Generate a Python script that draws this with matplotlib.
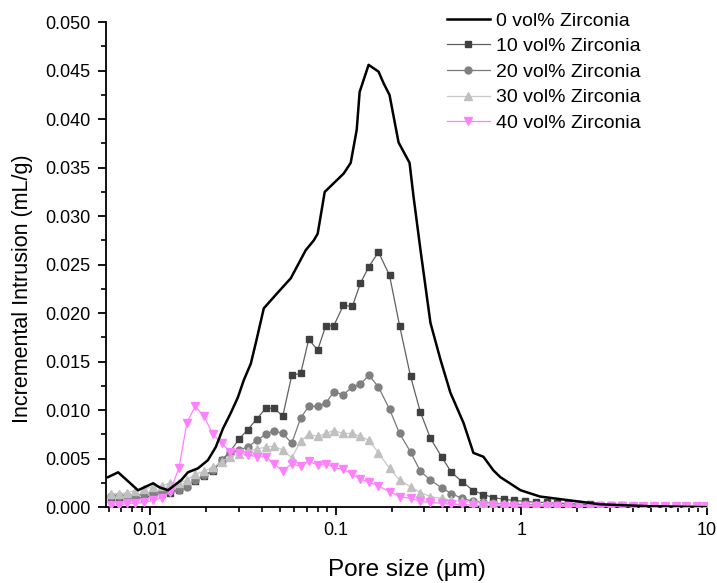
import matplotlib
matplotlib.use("Agg")
import matplotlib.pyplot as plt
from matplotlib.ticker import FixedLocator, LogLocator, MultipleLocator, FormatStrFormatter, NullFormatter

plt.rcParams['font.family'] = ['Liberation Sans', 'DejaVu Sans']

# 0 vol% Zirconia (line only)
x0 = [0.00594, 0.00673, 0.00861, 0.0104, 0.0112, 0.0125, 0.0147, 0.0160, 0.0181, 0.0205,
      0.0226, 0.0247, 0.0272, 0.0297, 0.0320, 0.0349, 0.0371, 0.0410, 0.0476, 0.0573,
      0.0690, 0.0762, 0.0800, 0.0873, 0.1105, 0.1205, 0.1298, 0.1346, 0.1504, 0.1702,
      0.1812, 0.195, 0.2103, 0.2182, 0.250, 0.2627, 0.2864, 0.324, 0.367, 0.415,
      0.488, 0.552, 0.625, 0.707, 0.771, 0.99, 1.26, 1.83, 2.66, 4.94, 9.9]
y0 = [0.0031, 0.0036, 0.00175, 0.00247, 0.00206, 0.00175, 0.00278, 0.0036, 0.0040, 0.00485,
      0.0062, 0.0081, 0.0097, 0.0113, 0.0131, 0.0148, 0.0169, 0.0205, 0.0219, 0.0236,
      0.0265, 0.0275, 0.0282, 0.0325, 0.0344, 0.0355, 0.0389, 0.0428, 0.0456, 0.0449,
      0.0437, 0.0425, 0.0392, 0.0376, 0.0355, 0.0320, 0.0265, 0.0190, 0.0152, 0.0118,
      0.0087, 0.0056, 0.0052, 0.0038, 0.0031, 0.00175, 0.0011, 0.0007, 0.0003, 0.0001, 0.0]

# shared pore sizes for the marker series
xm = [0.00617, 0.00681, 0.00752, 0.00831, 0.00929, 0.0104, 0.0116, 0.0128, 0.0143, 0.0158,
      0.0175, 0.0195, 0.0218, 0.0244, 0.0269, 0.0301, 0.0336, 0.0376, 0.0420, 0.0464,
      0.0519, 0.0580, 0.0648, 0.0716, 0.0800, 0.0884, 0.0976, 0.110, 0.123, 0.136,
      0.151, 0.170, 0.195, 0.221, 0.253, 0.286, 0.324, 0.372, 0.420, 0.482,
      0.552, 0.625, 0.707, 0.810, 0.917, 1.05, 1.20, 1.38, 1.56, 1.79,
      2.05, 2.35, 2.66, 3.05, 3.49, 4.00, 4.53, 5.19, 5.95, 6.81,
      7.71, 8.84, 9.88]

y10 = [0.0010, 0.0010, 0.0010, 0.0009, 0.0010, 0.0012, 0.0014, 0.0015, 0.0018, 0.0022,
       0.0027, 0.0032, 0.0037, 0.0049, 0.0057, 0.0070, 0.0080, 0.0091, 0.0102, 0.0102,
       0.0094, 0.0136, 0.0138, 0.0173, 0.0162, 0.0187, 0.0187, 0.0208, 0.0207, 0.0231,
       0.0248, 0.0263, 0.0239, 0.0187, 0.0135, 0.0098, 0.0071, 0.0052, 0.0036, 0.0026,
       0.0017, 0.0013, 0.0010, 0.0008, 0.0007, 0.0006, 0.0005, 0.0005, 0.0004, 0.0004,
       0.0003, 0.0003, 0.0002, 0.0002, 0.0002, 0.0001, 0.0001, 0.0001, 0.0001, 0.0001,
       0.0001, 0.0001, 0.0001]

y20 = [0.0012, 0.0012, 0.0012, 0.0012, 0.0014, 0.0015, 0.0016, 0.0017, 0.0018, 0.0021,
       0.0028, 0.0033, 0.0038, 0.0049, 0.0056, 0.0059, 0.0062, 0.0069, 0.0075, 0.0079,
       0.0076, 0.0066, 0.0092, 0.0104, 0.0104, 0.0107, 0.0119, 0.0116, 0.0124, 0.0127,
       0.0136, 0.0124, 0.0101, 0.0076, 0.0057, 0.0037, 0.0028, 0.0020, 0.0014, 0.0009,
       0.0006, 0.0005, 0.0004, 0.0003, 0.0003, 0.0003, 0.0002, 0.0002, 0.0002, 0.0002,
       0.0002, 0.0001, 0.0001, 0.0001, 0.0001, 0.0001, 0.0001, 0.0001, 0.0001, 0.0001,
       0.0001, 0.0001, 0.0001]

y30 = [0.0014, 0.0014, 0.0015, 0.0017, 0.0019, 0.0021, 0.0022, 0.0025, 0.0025, 0.0028,
       0.0034, 0.0037, 0.0041, 0.0047, 0.0052, 0.0055, 0.0058, 0.0060, 0.0062, 0.0063,
       0.0059, 0.0051, 0.0068, 0.0075, 0.0073, 0.0076, 0.0079, 0.0076, 0.0076, 0.0073,
       0.0069, 0.0056, 0.0040, 0.0028, 0.0021, 0.0015, 0.0011, 0.0009, 0.0007, 0.0006,
       0.0005, 0.0004, 0.0003, 0.0003, 0.0002, 0.0002, 0.0002, 0.0002, 0.0001, 0.0001,
       0.0001, 0.0001, 0.0001, 0.0001, 0.0001, 0.0001, 0.0001, 0.0001, 0.0001, 0.0001,
       0.0001, 0.0001, 0.0001]

y40 = [0.0002, 0.0002, 0.0004, 0.0004, 0.0005, 0.0007, 0.0010, 0.0016, 0.0040, 0.0087,
       0.0104, 0.0094, 0.0075, 0.0066, 0.0057, 0.0056, 0.0054, 0.0052, 0.0052, 0.0045,
       0.0037, 0.0045, 0.0042, 0.0048, 0.0043, 0.0045, 0.0041, 0.0039, 0.0034, 0.0029,
       0.0026, 0.0022, 0.0016, 0.0011, 0.0009, 0.0006, 0.0005, 0.0004, 0.0003, 0.0003,
       0.0002, 0.0002, 0.0002, 0.0001, 0.0001, 0.0001, 0.0001, 0.0001, 0.0001, 0.0001,
       0.0001, 0.0001, 0.0001, 0.0001, 0.0001, 0.0001, 0.0001, 0.0001, 0.0001, 0.0001,
       0.0001, 0.0001, 0.0001]

labels = ['0 vol% Zirconia', '10 vol% Zirconia', '20 vol% Zirconia',
          '30 vol% Zirconia', '40 vol% Zirconia']

fig = plt.figure(figsize=(7.17, 5.83), dpi=100)
ax = fig.add_axes([0.148, 0.130, 0.838, 0.832])

ax.plot(x0, y0, color='black', lw=1.8, label=labels[0], zorder=5)
ax.plot(xm, y10, color='#606060', lw=0.9, marker='s', ms=5, mfc='#404040', mec='#404040',
        label=labels[1], zorder=3)
ax.plot(xm, y20, color='#7a7a7a', lw=0.9, marker='o', ms=5, mfc='#808080', mec='#808080',
        label=labels[2], zorder=3)
ax.plot(xm, y30, color='#c8c8c8', lw=0.9, marker='^', ms=5.5, mfc='#c0c0c0', mec='#c0c0c0',
        label=labels[3], zorder=3)
ax.plot(xm, y40, color='#ff80ff', lw=0.9, marker='v', ms=5.5, mfc='#ff80ff', mec='#ff80ff',
        label=labels[4], zorder=4)

ax.set_xscale('log')
ax.set_xlim(0.0058, 10)
ax.set_ylim(0, 0.050)

ax.xaxis.set_major_locator(FixedLocator([0.01, 0.1, 1, 10]))
ax.set_xticklabels(['0.01', '0.1', '1', '10'])
ax.xaxis.set_minor_locator(LogLocator(base=10, subs=range(2, 10), numticks=20))
ax.xaxis.set_minor_formatter(NullFormatter())
ax.yaxis.set_major_locator(MultipleLocator(0.005))
ax.yaxis.set_minor_locator(MultipleLocator(0.0025))
ax.yaxis.set_major_formatter(FormatStrFormatter('%.3f'))

for s in ['top', 'right']:
    ax.spines[s].set_visible(False)
for s in ['left', 'bottom']:
    ax.spines[s].set_linewidth(1.3)

ax.tick_params(which='major', direction='out', length=6, width=1.3, labelsize=13, pad=5)
ax.tick_params(which='minor', direction='out', length=3.5, width=1.2)

ax.set_xlabel('Pore size (\u03bcm)', fontsize=17.5, labelpad=14)
ax.set_ylabel('Incremental Intrusion (mL/g)', fontsize=15.5)
ax.yaxis.set_label_coords(-0.122, 0.45)

ax.legend(loc='upper left', bbox_to_anchor=(0.538, 1.057), frameon=False, fontsize=14,
          handlelength=2.2, labelspacing=0.41, handletextpad=0.35)

fig.savefig('out.png', dpi=100)
